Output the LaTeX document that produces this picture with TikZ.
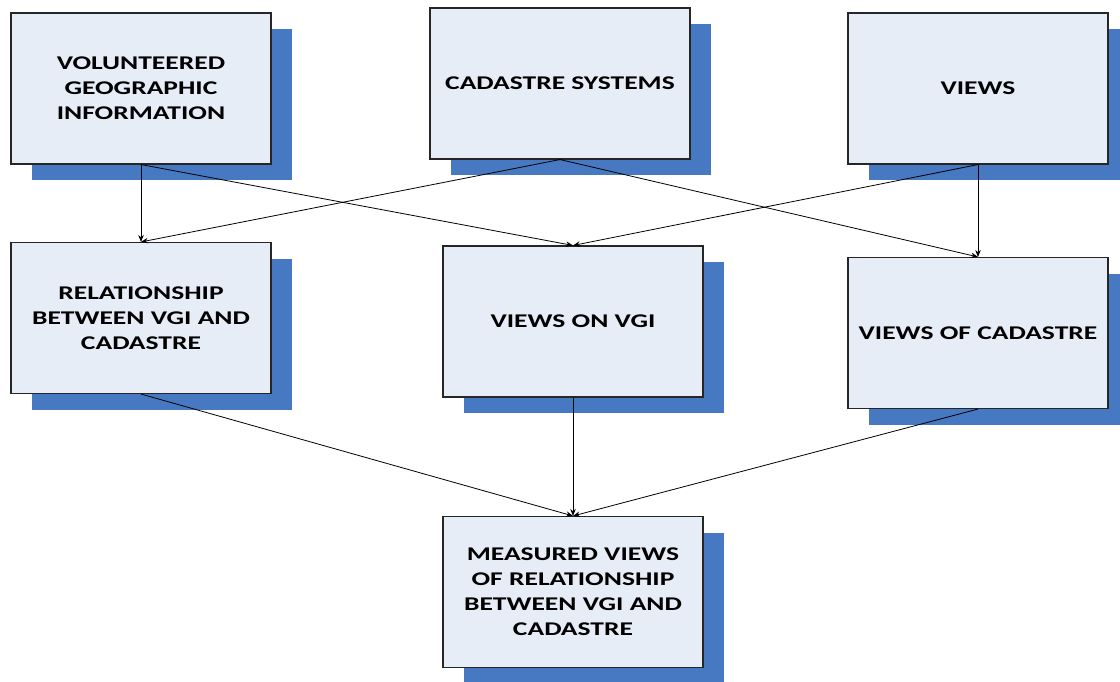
\documentclass[tikz,border=0pt]{standalone}
\usepackage{fontspec}
\setmainfont[FakeStretch=1.42]{Carlito}
\usetikzlibrary{arrows.meta,shadows}
\definecolor{boxfill}{HTML}{E7EDF7}
\definecolor{shadowblue}{HTML}{4778C2}
\begin{document}
\begin{tikzpicture}[x=1pt,y=1pt,
  box/.style={rectangle, draw=black!85, line width=1.1pt, fill=boxfill,
    minimum width=260pt, minimum height=151pt, inner sep=0pt,
    align=center, font=\fontsize{19.4}{25}\selectfont\bfseries,
    drop shadow={shadow xshift=21pt, shadow yshift=-16pt, fill=shadowblue, opacity=1}},
  conn/.style={draw=black, line width=0.8pt, -{Stealth[length=7pt,width=5.5pt]}}]
\useasboundingbox (0,0) rectangle (1120,-681);
\node[box] (vgi)  at (141,-88.5) {VOLUNTEERED\\GEOGRAPHIC\\INFORMATION};
\node[box] (cad)  at (560,-83.5) {CADASTRE SYSTEMS};
\node[box] (views) at (978,-88.5) {VIEWS};
\node[box] (rel)  at (141,-318) {RELATIONSHIP\\BETWEEN VGI AND\\CADASTRE};
\node[box] (vov)  at (573,-321.5) {VIEWS ON VGI};
\node[box] (voc)  at (978,-333) {VIEWS OF CADASTRE};
\node[box] (meas) at (573,-592) {MEASURED VIEWS\\OF RELATIONSHIP\\BETWEEN VGI AND\\CADASTRE};
\draw[conn] (vgi.south) -- (rel.north);
\draw[conn] (vgi.south) -- (vov.north);
\draw[conn] (cad.south) -- (rel.north);
\draw[conn] (cad.south) -- (voc.north);
\draw[conn] (views.south) -- (vov.north);
\draw[conn] (views.south) -- (voc.north);
\draw[conn] (rel.south) -- (meas.north);
\draw[conn] (vov.south) -- (meas.north);
\draw[conn] (voc.south) -- (meas.north);
\end{tikzpicture}
\end{document}
